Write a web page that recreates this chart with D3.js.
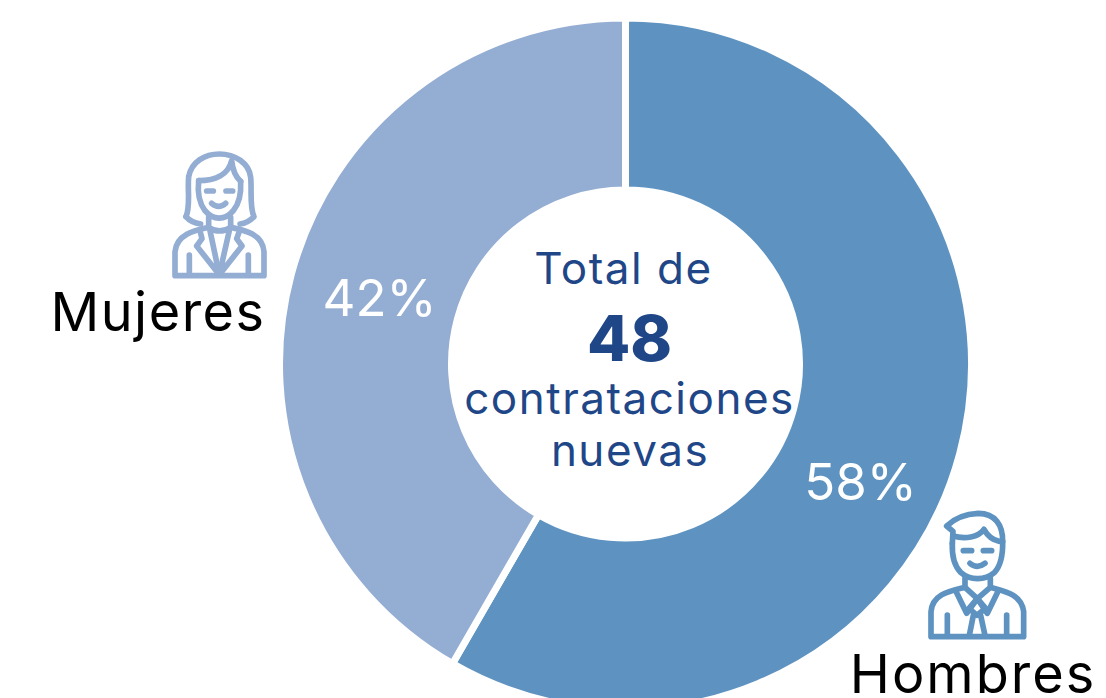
<!DOCTYPE html>
<html>
<head>
<meta charset="utf-8">
<script src="https://cdn.jsdelivr.net/npm/d3@7"></script>
<style>
  html, body { margin: 0; padding: 0; background: #fff; overflow: hidden; }
  text { font-family: Inter, "Open Sans", sans-serif; }
  .icon path { fill: none; stroke-width: 17; stroke-linecap: round; stroke-linejoin: round; }
</style>
</head>
<body>
<div id="chart"></div>
<script>
var width = 1106;
var height = 698;

// hires out of the 48 total
var categories = ["Hombres", "Mujeres"];
var hires = [28, 20];
var colors = ["#5e93c1", "#94add3"];
var centerLines = ["Total de", "48", "contrataciones", "nuevas"];

// icons, in 3x crop coordinates
var womanIcon = [
  "M78 230 C92 200 82 150 86 110 C95 65 135 42 178 42 C225 42 268 70 272 112 C276 150 268 200 282 230 C268 244 255 250 240 252",
  "M78 230 C90 244 105 250 122 252",
  "M116 122 C165 122 205 105 215 62 C218 90 228 112 242 124",
  "M116 122 C112 160 118 190 135 212 C160 242 195 242 220 212 C238 190 244 160 242 124",
  "M140 153 L160 153", "M198 153 L218 153",
  "M155 190 Q176 208 197 190",
  "M146 232 L146 262 Q178 284 212 262 L212 232",
  "M146 262 C110 270 50 280 45 335 L45 407 L312 407 L312 335 C308 280 250 270 212 262",
  "M122 280 L126 296 L110 318 L178 404 L150 272",
  "M236 280 L230 296 L246 318 L178 404 L208 272",
  "M88 345 L88 405", "M265 345 L265 405"
];
var manIcon = [
  "M112 130 L114 94 L95 78 C115 58 150 42 190 40 C240 40 264 75 263 125",
  "M114 108 C150 118 190 112 207 88 C218 108 235 120 252 124",
  "M112 130 C110 175 120 200 138 218 C165 242 210 242 238 218 C255 200 264 170 263 125",
  "M145 152 L170 152", "M205 152 L230 152",
  "M165 190 Q187 208 210 190",
  "M150 235 L150 262 L187 296 L226 262 L226 235",
  "M150 262 C110 272 52 280 48 335 L48 410 L326 410 L326 335 C320 280 262 272 226 262",
  "M122 272 L155 340 L187 296 L217 340 L250 272",
  "M187 296 L162 325 L186 346 L212 325 Z",
  "M175 346 L163 406", "M197 346 L210 406",
  "M97 345 L97 405", "M275 345 L275 405"
];

var svg = d3.select("#chart")
    .append("svg")
    .attr("width", width)
    .attr("height", height);

var g = svg.append("g")
    .attr("transform", "translate(625.5,364)");

var total = d3.sum(hires);
var pieGen = d3.pie().sort(null);
var arcGen = d3.arc().innerRadius(174).outerRadius(346);
var labelArc = d3.arc().innerRadius(265).outerRadius(265);

var slices = pieGen(hires);

g.selectAll("path")
    .data(slices)
    .enter()
    .append("path")
    .attr("d", arcGen)
    .style("fill", (d, i) => colors[i])
    .style("stroke", "#fff")
    .style("stroke-width", 7);

// percent labels sit a little off the arc centroid in the reference
var labelNudge = [[-21, 49], [10, 2]];
g.selectAll("text.pct")
    .data(slices)
    .enter()
    .append("text")
    .attr("class", "pct")
    .attr("x", (d, i) => labelArc.centroid(d)[0] + labelNudge[i][0])
    .attr("y", (d, i) => labelArc.centroid(d)[1] + labelNudge[i][1])
    .attr("text-anchor", "middle")
    .attr("dominant-baseline", "central")
    .style("fill", "#fff")
    .style("font-size", "51px")
    .style("font-weight", 400)
    .text(d => Math.round(d.value / total * 100) + "%");

// center text
var centerX = [-2, 4, 4, 4.5];
var centerY = [-80, -3, 50, 102];
var centerSize = [44, 63, 44, 44];
var center = svg.append("g").attr("transform", "translate(625.5,364)");
centerLines.forEach(function(t, i) {
  center.append("text")
      .attr("x", centerX[i])
      .attr("y", centerY[i])
      .attr("text-anchor", "middle")
      .style("fill", "#1f4788")
      .style("font-size", centerSize[i] + "px")
      .style("font-weight", i == 1 ? 800 : 400)
      .style("letter-spacing", i == 1 ? "0" : "1.5px")
      .text(t);
});

// category names
svg.append("text").attr("x", 158).attr("y", 331)
    .attr("text-anchor", "middle")
    .style("font-size", "54px").style("font-weight", 400)
    .style("letter-spacing", "1.5px")
    .text(categories[1]);
svg.append("text").attr("x", 973).attr("y", 693)
    .attr("text-anchor", "middle")
    .style("font-size", "54px").style("font-weight", 400)
    .style("letter-spacing", "2px")
    .text(categories[0]);

function drawIcon(paths, x, y, color) {
  svg.append("g")
      .attr("class", "icon")
      .attr("transform", "translate(" + x + "," + y + ") scale(0.3333)")
      .selectAll("path")
      .data(paths)
      .enter()
      .append("path")
      .attr("d", d => d)
      .style("stroke", color);
}
drawIcon(womanIcon, 160, 140, colors[1]);
drawIcon(manIcon, 915, 500, colors[0]);
</script>
</body>
</html>
